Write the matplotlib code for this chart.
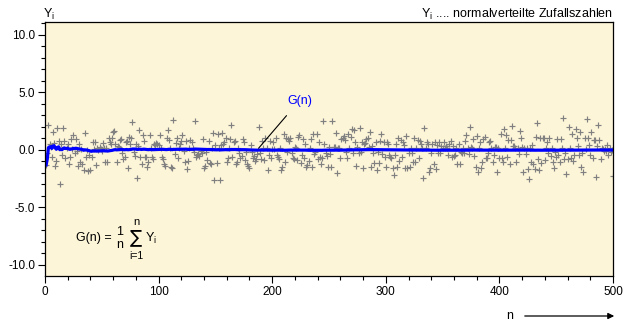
import numpy as np
import matplotlib.pyplot as plt
from matplotlib.patches import FancyArrowPatch
from matplotlib.ticker import MultipleLocator, FormatStrFormatter

plt.rcParams['font.family'] = ['Liberation Sans', 'DejaVu Sans']
plt.rcParams['mathtext.fontset'] = 'custom'
plt.rcParams['mathtext.rm'] = 'Liberation Sans'
plt.rcParams['mathtext.it'] = 'Liberation Sans'
plt.rcParams['mathtext.default'] = 'regular'

# Y_i (je 50 Werte pro Abschnitt)
y_001_050 = [-1.3, -0.3, 2.2, 0.5, 0.3, -0.6, 1.55, 0.65, -1.4, -1.0,
             1.9, 0.8, -3.0, 0.5, -0.45, 1.9, 0.8, -0.7, 0.15, 0.5,
             -1.25, -0.6, 0.95, 0.05, 1.3, -0.3, 0.93, -0.1, -1.4, 0.5,
             -1.07, 0.1, -1.25, -1.77, 1.45, -0.58, 0.0, -1.83, -0.43, -1.75,
             -0.58, 0.72, 0.08, 0.67, -1.3, 0.15, -0.02, 0.3, 0.1, -0.12]
y_051_100 = [0.58, 0.14, -1.01, 0.14, -1.07, 1.07, 0.67, 0.49, 1.01, 1.54,
             1.65, 0.49, -1.01, 0.38, 0.26, 0.87, 0.96, -0.29, -0.78, -0.58,
             0.67, 0.78, -1.59, 1.16, 0.49, 1.01, 2.41, -0.14, -0.49, 0.49,
             -2.46, 0.38, 1.71, -0.61, -1.25, 1.3, 0.78, -0.58, -0.58, -1.48,
             -1.01, 1.3, 0.14, -0.58, -0.78, 0.5, 0.4, 0.6, 0.5, 0.45]
y_101_150 = [1.3, 0.14, -0.58, -0.78, -1.25, -1.36, 1.07, 1.71, 0.87, 0.2,
             -1.48, -1.59, 2.58, -0.38, 0.58, 1.01, -0.67, 0.2, 0.49, 0.78,
             1.3, -0.1, -1.07, 0.78, -1.65, -0.96, 0.2, 0.87, 0.67, 0.2,
             -0.14, 2.52, -0.58, -0.43, -0.38, -0.49, -0.1, -0.29, 0.96, -1.54,
             -1.36, -0.2, -0.87, 0.78, -1.16, -1.25, 0.2, 1.45, -2.64, 0.43]
y_151_200 = [-1.16, 1.36, 0.2, -2.61, 0.43, 1.45, 0.49, 0.67, 1.07, -1.07,
             -0.72, 0.15, 0.96, 2.17, -0.58, 0.67, 0.78, -1.25, -1.07, 0.2,
             -0.29, -0.72, -0.49, 0.96, 0.67, -0.87, -0.2, -1.25, -1.36, -1.59,
             0.43, -0.2, -0.72, -0.49, -0.96, -0.78, -0.38, 2.03, -0.3, -0.78,
             0.78, 0.2, -0.87, 1.01, 0.2, -1.74, -0.43, 0.78, -0.67, 0.1]
y_201_250 = [0.72, 0.1, 1.07, -0.43, -0.58, -0.78, 0.15, -1.74, -1.45, 1.36,
             -1.07, 1.01, -0.2, 0.96, 0.8, 1.07, -0.3, -0.67, -0.78, 0.29,
             0.15, -0.87, 1.16, 1.3, -1.16, -0.43, 0.96, -0.72, 0.49, -1.45,
             -1.3, -0.96, 0.15, 0.96, -1.45, 1.36, -0.38, -0.15, 1.36, -0.78,
             0.67, -0.58, -1.25, -0.67, 2.52, 0.49, -0.29, -0.49, -1.45, 0.29]
y_251_300 = [-0.38, -1.45, 2.52, 0.29, 0.29, 1.45, -2.03, 0.2, 0.14, -0.67,
             0.96, 1.07, 1.25, 0.87, -0.14, -0.67, 1.36, 0.2, 1.16, 1.83,
             -0.29, 1.74, 0.67, -1.36, 0.29, -0.29, 1.88, -0.14, 0.67, -1.54,
             0.49, 0.58, 0.96, 1.07, 0.29, 1.54, -1.45, 0.38, -0.29, -1.16,
             0.67, -1.74, -0.2, -1.16, 0.78, 1.36, -0.38, 0.67, -0.58, -1.45]
y_301_350 = [0.67, 0.49, -0.43, -0.58, -0.72, -1.54, -2.17, -0.43, 0.49, -1.45,
             1.01, -0.96, 0.87, -0.58, 0.72, 0.43, -1.59, 1.25, -1.59, -0.29,
             -1.45, 0.14, -0.29, -1.07, 1.01, -1.07, 0.2, 0.87, -0.67, 0.78,
             0.49, 0.14, -2.41, 1.88, 0.2, 0.67, 0.49, -1.88, -1.59, -0.29,
             0.49, -1.25, 0.67, -1.65, 0.43, -0.29, 0.67, -0.29, 0.38, 0.2]
y_351_400 = [0.67, 0.14, 0.38, 0.2, -0.43, 0.49, 0.78, -0.58, 0.38, -0.49,
             -0.43, 0.2, -1.25, 0.49, -1.25, -0.14, -0.29, 0.2, -0.29, 0.78,
             1.3, 0.2, -0.38, 2.03, 0.29, 0.2, 0.96, -0.49, -1.45, 1.25,
             -1.88, 0.14, 0.67, -1.54, -1.07, 0.96, 1.16, -0.72, -0.72, -0.29,
             0.67, 0.78, 0.14, -1.07, -0.43, 0.29, 0.29, -1.88, 0.2, -0.67]
y_401_450 = [1.36, -0.67, -1.07, 1.83, 0.2, 1.3, -0.58, 0.87, -1.25, 0.87,
             2.12, 0.38, 0.38, 0.2, -1.07, 0.2, -0.38, 1.65, 1.07, 0.29,
             -1.88, 0.2, -0.38, 0.14, -1.65, -2.52, 0.2, -1.01, 0.43, -1.25,
             -1.65, 1.16, 2.32, -0.78, -1.74, 1.01, -1.16, 1.07, 1.01, -0.87,
             0.2, 0.67, -0.29, 1.07, -0.49, 0.2, -1.07, -1.54, -0.2, -0.58]
y_451_500 = [0.96, -0.43, -1.07, 0.96, 0.2, 2.81, -0.78, -0.29, -2.12, -0.78,
             2.03, 0.2, -0.67, 1.36, -0.96, -0.43, 1.83, 1.07, 0.38, -0.43,
             1.59, -1.48, -0.29, -1.94, 1.01, 0.1, 2.7, 1.01, 0.43, -0.43,
             1.59, -0.72, 0.87, 0.87, -2.35, 0.38, 2.17, 0.87, -0.78, 0.2,
             0.1, -0.1, 0.05, -0.05, 0.4, -0.4, 0.15, -0.15, 0.0, -2.23]

Y = np.array(y_001_050 + y_051_100 + y_101_150 + y_151_200 + y_201_250
             + y_251_300 + y_301_350 + y_351_400 + y_401_450 + y_451_500)
n = np.arange(1, len(Y) + 1)
G = np.cumsum(Y) / n   # G(n) = 1/n * Summe Y_i

W, H = 631, 328
fig = plt.figure(figsize=(W / 100, H / 100), dpi=100)
ax = fig.add_axes([45 / W, 52 / H, 568 / W, 254 / H])
ax.set_facecolor('#fdf5d8')


def px(x, y):
    # Pixelposition -> Figurkoordinaten
    return x / W, 1 - y / H


ax.plot(n, Y, linestyle='none', marker='+', ms=3.8, mew=0.85, color='#808080')
ax.plot(n, G, color='#0000ff', lw=2.3)

ax.set_xlim(0, 500)
ax.set_ylim(-10.96, 11.13)
ax.xaxis.set_major_locator(MultipleLocator(100))
ax.xaxis.set_minor_locator(MultipleLocator(20))
ax.yaxis.set_major_locator(MultipleLocator(5))
ax.yaxis.set_minor_locator(MultipleLocator(1))
ax.yaxis.set_major_formatter(FormatStrFormatter('%.1f'))
ax.tick_params(which='major', length=5, width=0.8, labelsize=8.5, pad=2)
ax.tick_params(which='minor', length=3, width=0.8)
for s in ax.spines.values():
    s.set_linewidth(0.9)

fig.text(*px(43, 14), r'Y$_\mathregular{i}$', fontsize=9, va='center', ha='left')
fig.text(*px(613, 14), r'Y$_\mathregular{i}$ .... normalverteilte Zufallszahlen',
         fontsize=9, va='center', ha='right')

ax.annotate('G(n)', xy=(188, 0.15), xytext=(224, 4.3), color='#0000ff', fontsize=9,
            ha='center', va='center',
            arrowprops=dict(arrowstyle='-', color='black', lw=0.8, shrinkA=6, shrinkB=0))

# Formel G(n) = 1/n * Summe
fig.text(*px(76, 238), 'G(n) =', fontsize=9, va='center', ha='left')
fig.text(*px(120, 232), '1', fontsize=9, va='center', ha='center')
fig.text(*px(120, 245), 'n', fontsize=9, va='center', ha='center')
fig.text(*px(136, 237), '\u2211', family='DejaVu Sans', fontsize=13, va='center', ha='center')
fig.text(*px(136, 222), 'n', fontsize=8, va='center', ha='center')
fig.text(*px(136, 256), 'i=1', fontsize=7.5, va='center', ha='center')
fig.text(*px(145, 238), r'Y$_\mathregular{i}$', fontsize=9, va='center', ha='left')

fig.text(*px(510, 316), 'n', fontsize=9, va='center', ha='center')
fig.patches.append(FancyArrowPatch(px(522, 316), px(617, 316), transform=fig.transFigure,
                                   arrowstyle='-|>', mutation_scale=9, color='black', lw=0.9))

fig.savefig('out.png', dpi=100)
